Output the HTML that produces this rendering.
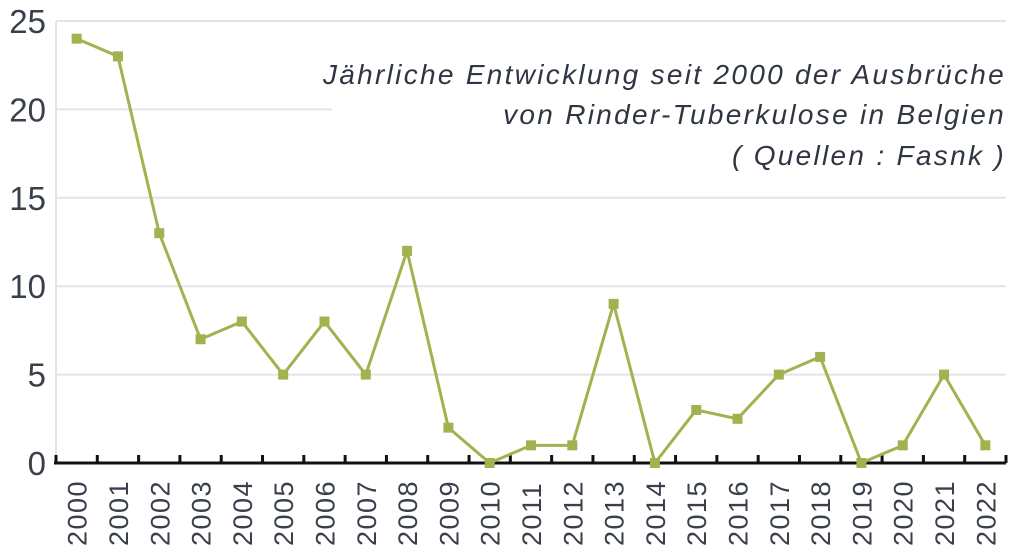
<!DOCTYPE html>
<html><head><meta charset="utf-8"><style>
html,body{margin:0;padding:0;background:#fff;}
svg{display:block;font-family:"Liberation Sans",sans-serif;}
</style></head><body>
<svg id="chart" width="1024" height="557" viewBox="0 0 1024 557">
<g id="grid"></g>
<g id="yticks"></g>
<g id="xaxis"></g>
<g id="series"></g>
<g font-style="italic" font-size="28" fill="#2f3542" text-anchor="end">
<text x="1006" y="84" letter-spacing="2.3">Jährliche Entwicklung seit 2000 der Ausbrüche</text>
<text x="1006" y="124" letter-spacing="2.3">von Rinder-Tuberkulose in Belgien</text>
<text x="1006" y="165" letter-spacing="2.3">( Quellen : Fasnk )</text>
</g>
</svg>
<script>
const categories=["2000","2001","2002","2003","2004","2005","2006","2007","2008","2009","2010","2011","2012","2013","2014","2015","2016","2017","2018","2019","2020","2021","2022"];
const values=[24,23,13,7,8,5,8,5,12,2,0,1,1,9,0,3,2.5,5,6,0,1,5,1];
const yTicks=[0,5,10,15,20,25];
const NS="http://www.w3.org/2000/svg";
const x0=56,x1=1006,y0=463,yTop=21;
const step=(x1-x0)/categories.length;
function xS(i){return x0+step*(i+0.5);}
function yS(v){return y0-(y0-yTop)*v/25;}
function mk(t,a,p){const e=document.createElementNS(NS,t);for(const k in a)e.setAttribute(k,a[k]);p.appendChild(e);return e;}
const grid=document.getElementById('grid'),yt=document.getElementById('yticks'),xa=document.getElementById('xaxis'),se=document.getElementById('series');
yTicks.forEach(v=>{
 if(v>0){const g=mk('line',{x1:x0,x2:v===20?332:x1,y1:yS(v),y2:yS(v),stroke:'#e3e4e8','stroke-width':2},grid);
 
 }
 const t=mk('text',{x:46,y:yS(v)+12,'text-anchor':'end','font-size':33,fill:'#3a3f4c'},yt);t.textContent=v;
 
 
});
const yl=mk('line',{x1:x0,x2:x0,y1:yTop,y2:y0,stroke:'#e3e4e8','stroke-width':2},grid);


const al=mk('line',{x1:x0-2,x2:x1,y1:y0,y2:y0,stroke:'#111','stroke-width':3},xa);


for(let i=0;i<=categories.length;i++){
 const tk=mk('line',{x1:x0+step*i,x2:x0+step*i,y1:y0-8,y2:y0,stroke:'#111','stroke-width':3},xa);
 
 
}
categories.forEach((c,i)=>{
 const x=xS(i)+10;
 const t=mk('text',{x:x,y:546,transform:'rotate(-90 '+x+' 546)','font-size':27,'letter-spacing':1.5,fill:'#3a3f4c'},xa);t.textContent=c;
 
 
});
const pts=values.map((v,i)=>xS(i)+','+yS(v)).join(' ');
const pl=mk('polyline',{points:pts,fill:'none',stroke:'#a4b14f','stroke-width':3},se);


values.forEach((v,i)=>{
 const r=mk('rect',{x:xS(i)-5,y:yS(v)-5,width:10,height:10,fill:'#a4b14f'},se);
 
 
});
</script>
</body></html>
